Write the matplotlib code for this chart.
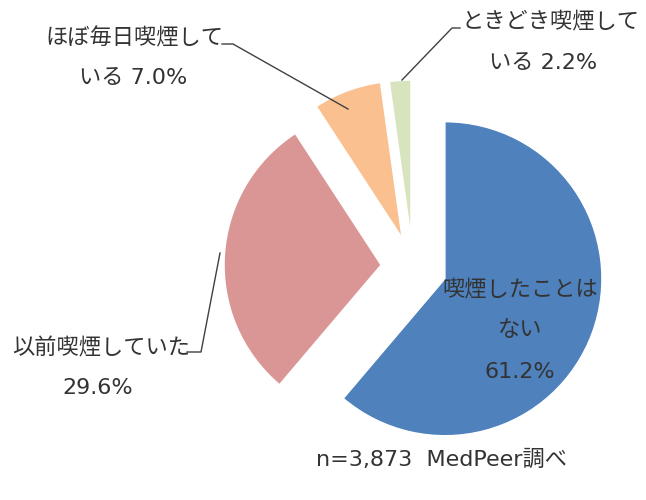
import matplotlib
matplotlib.use("Agg")
import matplotlib.pyplot as plt

plt.rcParams['font.family'] = ['DejaVu Sans', 'Noto Sans CJK JP']

categories = ["喫煙したことは\nない", "以前喫煙していた", "ほぼ毎日喫煙して\nいる", "ときどき喫煙して\nいる"]
values = [61.2, 29.6, 7.0, 2.2]
colors = ["#4F81BD", "#D99694", "#FAC090", "#D7E4BD"]
note = "n=3,873  MedPeer調べ"

W, H = 646, 500
fig = plt.figure(figsize=(W / 100, H / 100), dpi=100)
ax = fig.add_axes([0, 0, 1, 1])

def Y(y):
    return H - y

cx, cy, R = 413, 267, 157
ax.pie(values, colors=colors, startangle=90, counterclock=False,
       explode=[34, 32, 31, 30], center=(cx, Y(cy)), radius=R,
       wedgeprops=dict(edgecolor="white", linewidth=1.0), frame=True)
ax.set_xlim(0, W)
ax.set_ylim(0, H)
ax.set_aspect('equal')
ax.axis('off')

tc = "#333333"
fs = 16
lc = "#404040"

def lbl(i):
    return categories[i].split("\n")

# Blue label (inside)
p = lbl(0)
ax.text(520, Y(290), p[0], ha='center', va='center', fontsize=fs, color=tc)
ax.text(520, Y(330), p[1], ha='center', va='center', fontsize=fs, color=tc)
ax.text(520, Y(372), f"{values[0]:.1f}%", ha='center', va='center', fontsize=fs, color=tc)

# Pink label
p = lbl(1)
ax.text(12, Y(348), p[0], ha='left', va='center', fontsize=fs, color=tc)
ax.text(98, Y(388), f"{values[1]:.1f}%", ha='center', va='center', fontsize=fs, color=tc)
ax.plot([187, 201, 220], [Y(352), Y(352), Y(253)], color=lc, lw=1)

# Peach label
p = lbl(2)
ax.text(45, Y(38), p[0], ha='left', va='center', fontsize=fs, color=tc)
ax.text(133, Y(78), f"{p[1]} {values[2]:.1f}%", ha='center', va='center', fontsize=fs, color=tc)
ax.plot([222, 233, 348], [Y(44), Y(44), Y(109)], color=lc, lw=1)

# Green label
p = lbl(3)
ax.text(462, Y(22), p[0], ha='left', va='center', fontsize=fs, color=tc)
ax.text(543, Y(63), f"{p[1]} {values[3]:.1f}%", ha='center', va='center', fontsize=fs, color=tc)
ax.plot([460, 452, 402], [Y(28), Y(28), Y(80)], color=lc, lw=1)

ax.text(441, Y(460), note, ha='center', va='center', fontsize=fs, color=tc)

fig.savefig("out.png", dpi=100, facecolor="white")
